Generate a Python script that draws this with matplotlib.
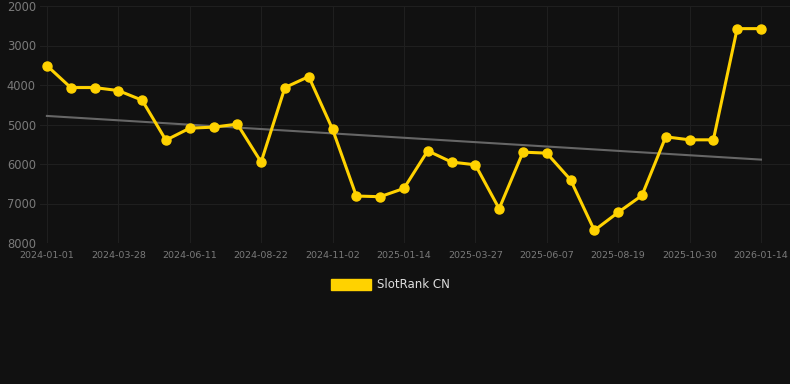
import matplotlib
matplotlib.use("Agg")
import matplotlib.pyplot as plt
import numpy as np
from matplotlib.patches import Patch

# SlotRank CN, one point every ~3 weeks (category-style axis)
rank = [3509, 4065, 4065, 4141, 4385, 5397, 5093, 5067, 4991, 5951,
        4065, 3787, 5118, 6811, 6828, 6618, 5666, 5951, 6020, 7132,
        5700, 5725, 6399, 7680, 7225, 6796, 5312, 5388, 5388, 2573,
        2573]
tick_labels = ['2024-01-01', '2024-03-28', '2024-06-11', '2024-08-22',
               '2024-11-02', '2025-01-14', '2025-03-27', '2025-06-07',
               '2025-08-19', '2025-10-30', '2026-01-14']
y_ticks = [2000, 3000, 4000, 5000, 6000, 7000, 8000]

bg = '#111111'
yellow = '#ffd200'

x = np.arange(len(rank))
fig = plt.figure(figsize=(7.9, 3.84), dpi=100, facecolor=bg)
ax = fig.add_axes([40 / 790, 1 - 243 / 384, 750 / 790, 237 / 384])
ax.set_facecolor(bg)

# trend line (least squares)
k, b = np.polyfit(x, rank, 1)
ax.plot(x, k * x + b, color='#666666', lw=1.5, zorder=2)

ax.plot(x, rank, color=yellow, lw=2.2, marker='o', ms=6.5, zorder=3)

ax.set_ylim(8000, 2000)
ax.set_yticks(y_ticks)
ax.set_xlim(-0.29, 31.22)
ax.set_xticks(x[::3])
ax.set_xticklabels(tick_labels)

ax.grid(True, color='#1f1f1f', lw=0.8)
ax.set_axisbelow(True)
for s in ax.spines.values():
    s.set_visible(False)
ax.tick_params(axis='y', length=0, pad=3, labelsize=8.3, labelcolor='#7a7a7a')
ax.tick_params(axis='x', length=0, pad=6, labelsize=6.8, labelcolor='#7a7a7a')

fig.legend(handles=[Patch(color=yellow, label='SlotRank CN')],
           loc='center', bbox_to_anchor=(390 / 790, 1 - 285 / 384),
           frameon=False, fontsize=8.5, labelcolor='#dddddd',
           handlelength=3.4, handleheight=1.0, handletextpad=0.5)

fig.savefig('out.png', dpi=100, facecolor=bg)
